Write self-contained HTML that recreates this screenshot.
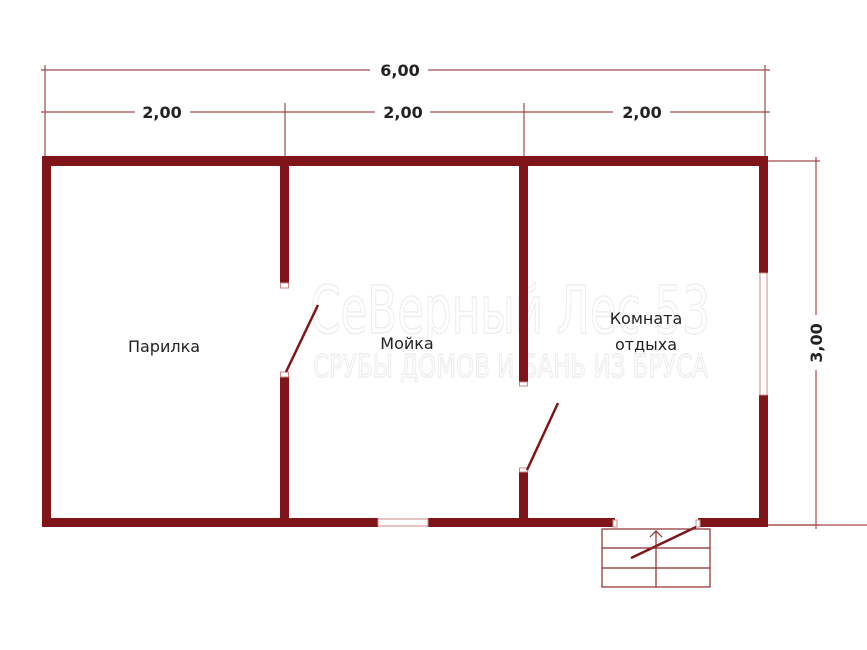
<!DOCTYPE html>
<html><head><meta charset="utf-8"><style>
html,body{margin:0;padding:0;background:#fff;}
svg{display:block;}
text{font-family:"DejaVu Sans","Liberation Sans",sans-serif;}
</style></head><body>
<svg width="867" height="650" viewBox="0 0 867 650" xmlns="http://www.w3.org/2000/svg">
<!-- watermark -->
<g fill="none" stroke="#eeeeee" stroke-width="1.5">
<text x="310" y="333" font-size="66" font-family="Liberation Sans, sans-serif" textLength="400" lengthAdjust="spacingAndGlyphs">СеВерный Лес 53</text>
<text x="313" y="377" font-size="31" font-family="Liberation Sans, sans-serif" textLength="395" lengthAdjust="spacingAndGlyphs">СРУБЫ ДОМОВ И БАНЬ ИЗ БРУСА</text>
</g>
<g stroke="#a24a4d" stroke-width="1.2" fill="none">
<line x1="41" y1="70" x2="370" y2="70"/><line x1="428" y1="70" x2="770" y2="70"/>
<line x1="45" y1="65" x2="45" y2="156"/>
<line x1="765" y1="65" x2="765" y2="156"/>
<line x1="41" y1="112" x2="135" y2="112"/><line x1="190" y1="112" x2="375" y2="112"/>
<line x1="430" y1="112" x2="613" y2="112"/><line x1="670" y1="112" x2="770" y2="112"/>
<line x1="285" y1="103" x2="285" y2="156"/>
<line x1="524" y1="103" x2="524" y2="156"/>
<line x1="768" y1="161" x2="820" y2="161"/>
<line x1="768" y1="525" x2="820" y2="525"/>
<line x1="816" y1="157" x2="816" y2="315"/><line x1="816" y1="370" x2="816" y2="529"/>
<line x1="768" y1="525" x2="867" y2="525"/>
</g>
<g font-size="16" font-weight="bold" fill="#222" text-anchor="middle">
<text x="400" y="76">6,00</text>
<text x="162" y="118">2,00</text>
<text x="403" y="118">2,00</text>
<text x="642" y="118">2,00</text>
<text transform="translate(822,343) rotate(-90)">3,00</text>
</g>
<g fill="#7f1518">
<rect x="42" y="156" width="726" height="10"/>
<rect x="42" y="156" width="9" height="371"/>
<rect x="759" y="156" width="9" height="117"/>
<rect x="759" y="395" width="9" height="132"/>
<rect x="42" y="518" width="336" height="9"/>
<rect x="428" y="518" width="187" height="9"/>
<rect x="698" y="518" width="70" height="9"/>
<rect x="280" y="156" width="9" height="127"/>
<rect x="280" y="377" width="9" height="150"/>
<rect x="519" y="156" width="9" height="226"/>
<rect x="519" y="472" width="9" height="55"/>
</g>
<g fill="#fff" stroke="#c88" stroke-width="1">
<rect x="280.5" y="283" width="8" height="5"/>
<rect x="280.5" y="372" width="8" height="5"/>
<rect x="519.5" y="382" width="8" height="4"/>
<rect x="519.5" y="468" width="8" height="4"/>
<rect x="760" y="273" width="7" height="122"/>
<rect x="378" y="519" width="50" height="7"/>
<rect x="613" y="520" width="4" height="7"/>
<rect x="696" y="520" width="4" height="7"/>
</g>
<g stroke="#7f1518" stroke-width="2.5" fill="none">
<line x1="286" y1="372" x2="318" y2="305"/>
<line x1="527" y1="470" x2="558" y2="403"/>
<line x1="696" y1="527" x2="631" y2="558"/>
</g>
<g stroke="#8b2a2d" stroke-width="1.2" fill="none">
<rect x="602" y="529" width="108" height="58"/>
<line x1="602" y1="548" x2="710" y2="548"/>
<line x1="602" y1="568" x2="710" y2="568"/>
<line x1="656" y1="531" x2="656" y2="587"/>
<polyline points="650,537 656,531 662,537"/>
</g>
<g font-size="16" fill="#222" text-anchor="middle">
<text x="164" y="352">Парилка</text>
<text x="407" y="349">Мойка</text>
<text x="646" y="324">Комната</text>
<text x="646" y="350">отдыха</text>
</g>
</svg>
</body></html>
